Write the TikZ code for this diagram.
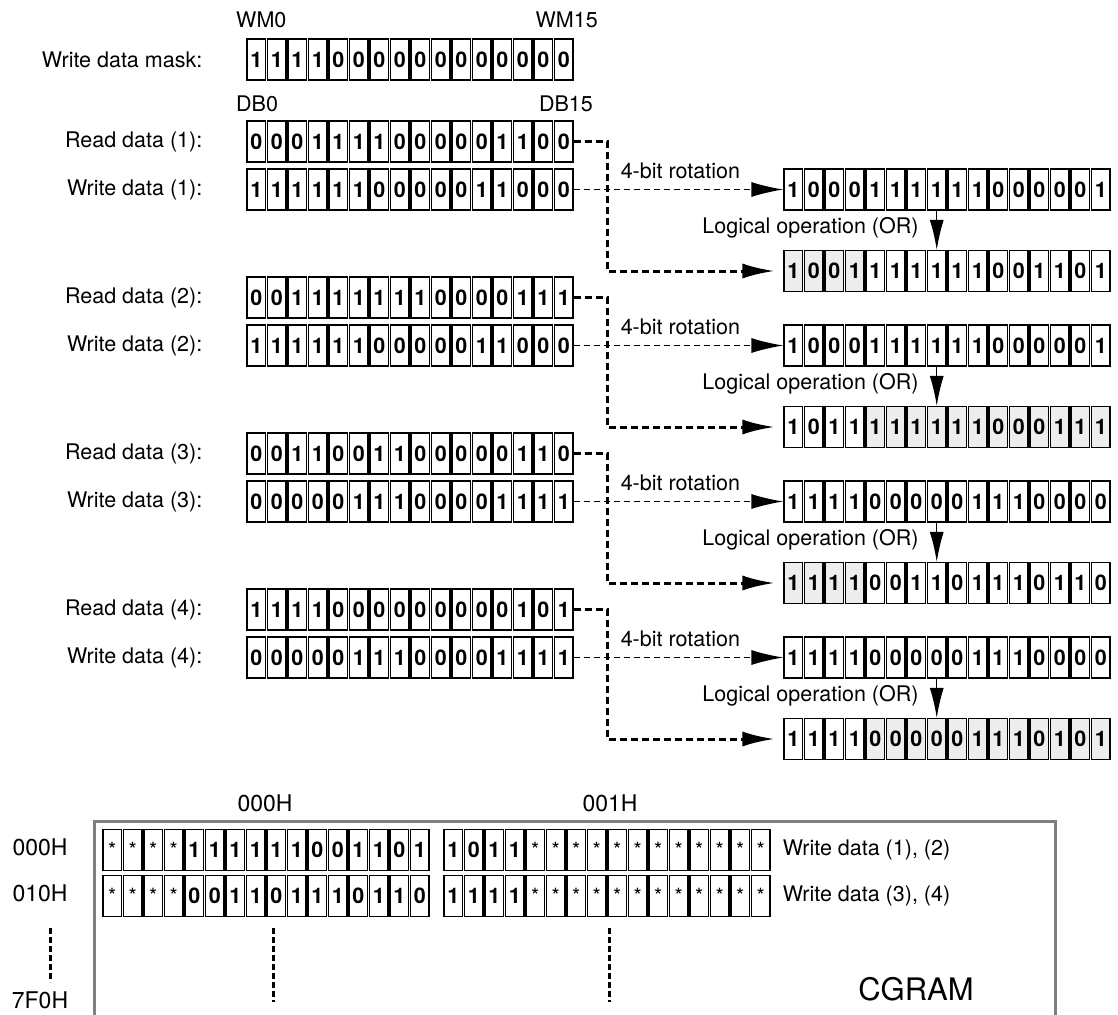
\documentclass[tikz,border=0pt]{standalone}
\usepackage{fontspec}
\setmainfont{TeX Gyre Heros}
\usetikzlibrary{arrows.meta,calc,positioning}

\definecolor{cellgray}{gray}{0.93}
\definecolor{framegray}{gray}{0.5}

\tikzset{
  bitcell/.style={draw, line width=1.1pt, minimum width=18.5pt, minimum height=41pt,
    inner sep=0pt, font=\fontsize{21.5}{21.5}\selectfont\bfseries},
  lbl/.style={font=\fontsize{21.5}{25}\selectfont, inner sep=0pt},
  hexlbl/.style={font=\fontsize{23}{27}\selectfont, inner sep=0pt},
  rotline/.style={line width=1.6pt, dash pattern=on 6pt off 4pt, -{Latex[length=32pt,width=15pt]}},
  orline/.style={line width=3pt, dash pattern=on 7pt off 4pt, -{Latex[length=32pt,width=15pt]}},
  oparrow/.style={line width=1.4pt, -{Latex[length=30pt,width=14pt]}},
  vdots/.style={line width=3pt, dash pattern=on 6pt off 3pt},
}

\def\starsym{*}
% 16 cells: name, centre x of cell 0, centre y, bits, first/last grey cell
\newcommand{\bitrow}[6]{%
  \foreach \b [count=\i from 0] in {#4}{
    \pgfmathtruncatemacro{\shd}{(\i>=#5)&&(\i<=#6)}
    \ifnum\shd=1 \def\cellfill{cellgray}\else\def\cellfill{white}\fi
    \ifx\b\starsym \def\cellfont{\fontsize{21}{21}\selectfont\mdseries}\else\def\cellfont{}\fi
    \node[bitcell, fill=\cellfill] (#1-\i) at (#2+\i*20.5, #3) {\cellfont\b};
  }}

\begin{document}
\begin{tikzpicture}[x=1pt,y=-1pt]
  \useasboundingbox (0,0) rectangle (1118,1014);

  % --- write data mask ---
  \bitrow{mask}{256.25}{59.5}{1,1,1,1,0,0,0,0,0,0,0,0,0,0,0,0}{-1}{-1}
  \node[lbl, left=44pt of mask-0] (lmask) {Write data mask:};
  \node[lbl, anchor=base west] (wm0) at (236,28) {WM0};
  \node[lbl, anchor=base east] (wm15) at (598,28) {WM15};
  \node[lbl, anchor=base west] (db0) at (236,112) {DB0};
  \node[lbl, anchor=base east] (db15) at (593,112) {DB15};

  % --- read / write data (left) ---
  \bitrow{rd1}{256.25}{141.5}{0,0,0,1,1,1,1,0,0,0,0,0,1,1,0,0}{-1}{-1}
  \bitrow{wr1}{256.25}{189.5}{1,1,1,1,1,1,0,0,0,0,0,1,1,0,0,0}{-1}{-1}
  \bitrow{rd2}{256.25}{297.5}{0,0,1,1,1,1,1,1,1,0,0,0,0,1,1,1}{-1}{-1}
  \bitrow{wr2}{256.25}{345.5}{1,1,1,1,1,1,0,0,0,0,0,1,1,0,0,0}{-1}{-1}
  \bitrow{rd3}{256.25}{453.5}{0,0,1,1,0,0,1,1,0,0,0,0,0,1,1,0}{-1}{-1}
  \bitrow{wr3}{256.25}{501.5}{0,0,0,0,0,1,1,1,0,0,0,0,1,1,1,1}{-1}{-1}
  \bitrow{rd4}{256.25}{609.5}{1,1,1,1,0,0,0,0,0,0,0,0,0,1,0,1}{-1}{-1}
  \bitrow{wr4}{256.25}{657.5}{0,0,0,0,0,1,1,1,0,0,0,0,1,1,1,1}{-1}{-1}

  % --- rotated data and OR result (right) ---
  \bitrow{rot1}{793.25}{189.5}{1,0,0,0,1,1,1,1,1,1,0,0,0,0,0,1}{-1}{-1}
  \bitrow{res1}{793.25}{271}{1,0,0,1,1,1,1,1,1,1,0,0,1,1,0,1}{0}{3}
  \bitrow{rot2}{793.25}{345.5}{1,0,0,0,1,1,1,1,1,1,0,0,0,0,0,1}{-1}{-1}
  \bitrow{res2}{793.25}{427}{1,0,1,1,1,1,1,1,1,1,0,0,0,1,1,1}{4}{15}
  \bitrow{rot3}{793.25}{501.5}{1,1,1,1,0,0,0,0,0,1,1,1,0,0,0,0}{-1}{-1}
  \bitrow{res3}{793.25}{583}{1,1,1,1,0,0,1,1,0,1,1,1,0,1,1,0}{0}{3}
  \bitrow{rot4}{793.25}{657.5}{1,1,1,1,0,0,0,0,0,1,1,1,0,0,0,0}{-1}{-1}
  \bitrow{res4}{793.25}{739}{1,1,1,1,0,0,0,0,0,1,1,1,0,1,0,1}{4}{15}

  \foreach \k in {1,...,4}{
    \node[lbl, left=44pt of rd\k-0] (lrd\k) {Read data (\k):};
    \node[lbl, left=44pt of wr\k-0] (lwr\k) {Write data (\k):};
    \draw[rotline] (wr\k-15.east) -- (rot\k-0.west);
    \draw[orline] (rd\k-15.east) -- ++(34,0) |- ($(res\k-0.west)+(-9,0)$);
    \draw[oparrow] (rot\k-7.south) -- (res\k-7.north);
    \node[lbl, anchor=base west] (rlbl\k) at ($(wr\k-15.east)+(47,-11.5)$) {4-bit rotation};
    \node[lbl, anchor=base east] (olbl\k) at ($(rot\k-7.south)+(-18,23)$) {Logical operation (OR)};
  }

  % --- CGRAM ---
  \draw[framegray, line width=3pt] (94,1020) -- (94,821) -- (1055,821) -- (1055,1020);
  \bitrow{ca}{112.25}{850}{*,*,*,*,1,1,1,1,1,1,0,0,1,1,0,1}{-1}{-1}
  \bitrow{cb}{453.25}{850}{1,0,1,1,*,*,*,*,*,*,*,*,*,*,*,*}{-1}{-1}
  \bitrow{cc}{112.25}{896}{*,*,*,*,0,0,1,1,0,1,1,1,0,1,1,0}{-1}{-1}
  \bitrow{cd}{453.25}{896}{1,1,1,1,*,*,*,*,*,*,*,*,*,*,*,*}{-1}{-1}
  \node[lbl, right=12pt of cb-15] (lcb) {Write data (1), (2)};
  \node[lbl, right=12pt of cd-15] (lcd) {Write data (3), (4)};
  \node[hexlbl] (col0) at (265,803) {000H};
  \node[hexlbl] (col1) at (610,803) {001H};
  \node[hexlbl] (row0) at (40,847) {000H};
  \node[hexlbl] (row1) at (40,893) {010H};
  \node[hexlbl] (row7) at (40,1000) {7F0H};
  \draw[vdots] (50,928) -- (50,982);
  \draw[vdots] (273,928) -- (273,1002);
  \draw[vdots] (609,928) -- (609,1002);
  \node[font=\fontsize{31}{31}\selectfont] (cgram) at (916,989) {CGRAM};
\end{tikzpicture}
\end{document}
